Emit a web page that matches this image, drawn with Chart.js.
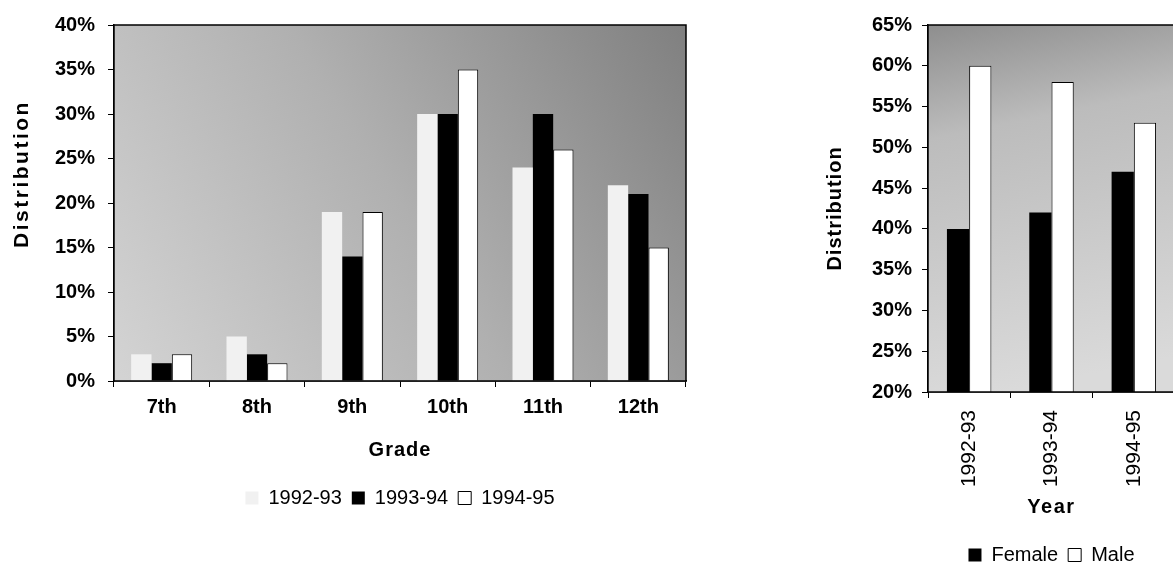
<!DOCTYPE html>
<html>
<head>
<meta charset="utf-8">
<script src="https://cdn.jsdelivr.net/npm/chart.js@4/dist/chart.umd.min.js"></script>
<style>
  html, body { margin: 0; padding: 0; background: #fff; width: 1173px; height: 570px; overflow: hidden; position: relative; }
  #grade { position: absolute; left: 0; top: 0; }
  #gender { position: absolute; left: 780px; top: 0; }
</style>
</head>
<body>
<canvas id="grade" width="720" height="570"></canvas>
<canvas id="gender" width="400" height="600"></canvas>
<script>
// left chart: distribution by grade
const grades = ["7th", "8th", "9th", "10th", "11th", "12th"];
const share9293 = [3, 5, 19, 30, 24, 22];
const share9394 = [2, 3, 14, 30, 30, 21];
const share9495 = [3, 2, 19, 35, 26, 15];
const gradeTicks = [0, 40, 5];

// right chart: distribution by gender
const years = ["1992-93", "1993-94", "1994-95"];
const female = [40, 42, 47];
const male = [60, 58, 53];
const genderTicks = [20, 65, 5];

Chart.defaults.font.family = "'Liberation Sans', Arial, sans-serif";
Chart.defaults.color = "#000";

// fixes an axis' thickness and spreads its title letters a little
function fitAxis(size, spacing, shift) {
  return (scale) => {
    if (scale.isHorizontal()) scale.height = size; else scale.width = size;
    if (scale._spaced) return;
    scale._spaced = true;
    const drawTitle = scale.drawTitle.bind(scale);
    scale.drawTitle = () => {
      const ctx = scale.ctx;
      ctx.save();
      ctx.letterSpacing = spacing + "px";
      ctx.translate(0, shift);
      drawTitle();
      ctx.restore();
    };
  };
}

// shaded plot area plus a black frame
function plotFrame(x0, y0, x1, y1, stops) {
  return {
    id: "plotFrame",
    beforeDatasetsDraw(chart) {
      const { ctx, chartArea: a } = chart;
      const g = ctx.createLinearGradient(a.left + a.width * x0, a.top + a.height * y0, a.left + a.width * x1, a.top + a.height * y1);
      stops.forEach(([o, c]) => g.addColorStop(o, c));
      ctx.save();
      ctx.fillStyle = g;
      ctx.fillRect(a.left, a.top, a.width, a.height);
      ctx.restore();
    },
    afterDatasetsDraw(chart) {
      const { ctx, chartArea: a } = chart;
      ctx.save();
      ctx.strokeStyle = "#000";
      ctx.lineWidth = 1.5;
      ctx.strokeRect(a.left, a.top, a.width, a.height);
      ctx.restore();
    }
  };
}

function yAxis([min, max, step], width, labelPad, titleFont, titlePad, spacing, shift) {
  return {
    min, max,
    grid: { drawOnChartArea: false, color: "#000", tickLength: 6 },
    border: { color: "#000", width: 1.5 },
    ticks: { stepSize: step, padding: labelPad, font: { size: 20, weight: "bold" }, callback: (v) => v + "%" },
    title: { display: true, text: "Distribution", font: { size: titleFont, weight: "bold" }, padding: { top: titlePad } },
    afterFit: fitAxis(width, spacing, shift)
  };
}

function legendOpts() {
  return {
    position: "bottom",
    fullSize: false,
    labels: { font: { size: 20 }, boxWidth: 13, boxHeight: 13, padding: 10 }
  };
}

new Chart(document.getElementById("grade"), {
  type: "bar",
  data: {
    labels: grades,
    datasets: [
      { label: "1992-93", data: share9293, backgroundColor: "#f1f1f1", borderWidth: 0 },
      { label: "1993-94", data: share9394, backgroundColor: "#000", borderWidth: 0 },
      { label: "1994-95", data: share9495, backgroundColor: "#fff", borderColor: "#000", borderWidth: 1 }
    ]
  },
  options: {
    responsive: false,
    animation: false,
    layout: { padding: { top: 25, right: 34, bottom: 52, left: 0 } },
    datasets: { bar: { categoryPercentage: 0.64, barPercentage: 1 } },
    plugins: { legend: legendOpts(), tooltip: { enabled: false } },
    scales: {
      x: {
        grid: { drawOnChartArea: false, color: "#000", tickLength: 6, offset: true },
        border: { color: "#000", width: 1.5 },
        ticks: { font: { size: 20, weight: "bold" }, padding: 8 },
        title: { display: true, text: "Grade", font: { size: 20, weight: "bold" }, padding: { bottom: 16 } },
        afterFit: fitAxis(97, 1, 0)
      },
      y: yAxis(gradeTicks, 114, 13, 21, 10, 2.5, -29)
    }
  },
  plugins: [plotFrame(0, 1, 1, 0, [[0, "#d4d4d4"], [0.5, "#b0b0b0"], [1, "#808080"]])]
});

new Chart(document.getElementById("gender"), {
  type: "bar",
  data: {
    labels: years,
    datasets: [
      { label: "Female", data: female, backgroundColor: "#000", borderWidth: 0 },
      { label: "Male", data: male, backgroundColor: "#fff", borderColor: "#000", borderWidth: 1 }
    ]
  },
  options: {
    responsive: false,
    animation: false,
    layout: { padding: { top: 25, right: 5, bottom: 25, left: 0 } },
    datasets: { bar: { categoryPercentage: 0.54, barPercentage: 1 } },
    plugins: { legend: legendOpts(), tooltip: { enabled: false } },
    scales: {
      x: {
        grid: { drawOnChartArea: false, color: "#000", tickLength: 6, offset: true },
        border: { color: "#000", width: 1.5 },
        ticks: { font: { size: 21 }, padding: 12, minRotation: 90, maxRotation: 90, autoSkip: false },
        title: { display: true, text: "Year", font: { size: 20, weight: "bold" }, padding: { bottom: 16 } },
        afterFit: fitAxis(143, 1.5, 0)
      },
      y: yAxis(genderTicks, 148, 10, 20, 43, 1, 0)
    }
  },
  plugins: [plotFrame(0, 0, 0.3, 1, [[0, "#8e8e8e"], [0.3, "#bcbcbc"], [1, "#dadada"]])]
});
</script>
</body>
</html>
